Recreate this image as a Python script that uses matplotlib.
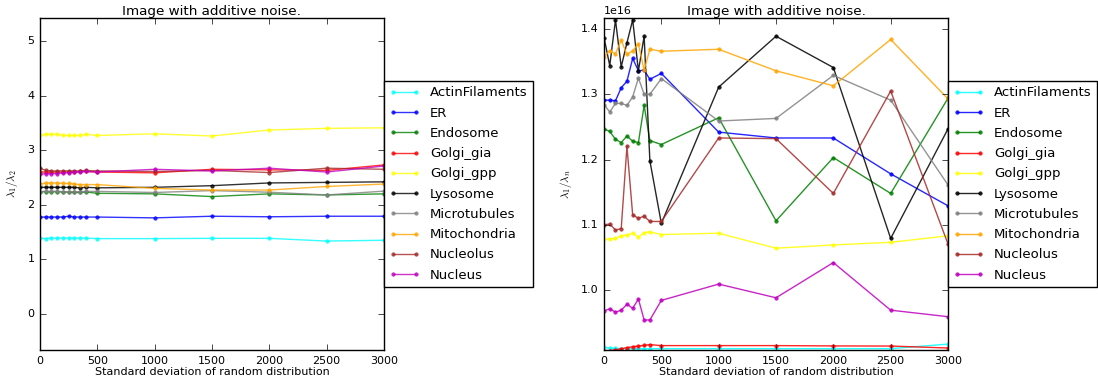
import matplotlib
matplotlib.use("Agg")
import matplotlib.pyplot as plt

plt.style.use("classic")
plt.rcParams["figure.facecolor"] = "white"
plt.rcParams["savefig.facecolor"] = "white"
plt.rcParams["font.size"] = 8

# Standard deviation of the random distribution
sigma = [0, 50, 100, 150, 200, 250, 300, 350, 400, 500, 1000, 1500, 2000, 2500, 3000]

labels = ["ActinFilaments", "ER", "Endosome", "Golgi_gia", "Golgi_gpp",
          "Lysosome", "Microtubules", "Mitochondria", "Nucleolus", "Nucleus"]
colors = ["cyan", "blue", "green", "red", "yellow", "black", "gray", "orange", "brown", "m"]

# lambda_1 / lambda_2
ratio12_actin = [1.39, 1.38, 1.39, 1.39, 1.39, 1.39, 1.39, 1.39, 1.39, 1.38, 1.38, 1.385, 1.385, 1.335, 1.35]
ratio12_er = [1.775, 1.775, 1.775, 1.775, 1.775, 1.79, 1.775, 1.775, 1.775, 1.775, 1.76, 1.79, 1.78, 1.79, 1.79]
ratio12_endosome = [2.24, 2.24, 2.24, 2.24, 2.235, 2.23, 2.225, 2.225, 2.235, 2.21, 2.20, 2.15, 2.20, 2.18, 2.20]
ratio12_golgi_gia = [2.60, 2.60, 2.60, 2.60, 2.60, 2.60, 2.60, 2.61, 2.61, 2.60, 2.585, 2.65, 2.64, 2.63, 2.73]
ratio12_golgi_gpp = [3.27, 3.29, 3.29, 3.29, 3.27, 3.27, 3.27, 3.27, 3.29, 3.27, 3.30, 3.26, 3.37, 3.40, 3.41]
ratio12_lysosome = [2.32, 2.32, 2.32, 2.32, 2.32, 2.32, 2.32, 2.31, 2.32, 2.31, 2.32, 2.35, 2.40, 2.41, 2.42]
ratio12_microtubules = [2.24, 2.245, 2.245, 2.245, 2.24, 2.24, 2.24, 2.24, 2.245, 2.245, 2.225, 2.26, 2.23, 2.18, 2.25]
ratio12_mitochondria = [2.38, 2.40, 2.40, 2.40, 2.39, 2.39, 2.38, 2.37, 2.37, 2.37, 2.30, 2.27, 2.27, 2.335, 2.38]
ratio12_nucleolus = [2.67, 2.63, 2.62, 2.62, 2.62, 2.62, 2.62, 2.62, 2.63, 2.62, 2.61, 2.63, 2.59, 2.67, 2.65]
ratio12_nucleus = [2.555, 2.57, 2.57, 2.57, 2.585, 2.585, 2.60, 2.60, 2.61, 2.60, 2.65, 2.62, 2.67, 2.60, 2.71]

# lambda_1 / lambda_n (scaled by 1e16)
ratio1n_actin = [0.912, 0.9105, 0.9103, 0.9102, 0.9101, 0.9100, 0.9100, 0.9100, 0.9100, 0.9100, 0.9100, 0.9100, 0.9100, 0.9100, 0.917]
ratio1n_er = [1.291, 1.291, 1.290, 1.310, 1.320, 1.355, 1.336, 1.337, 1.323, 1.332, 1.242, 1.233, 1.233, 1.178, 1.129]
ratio1n_endosome = [1.247, 1.243, 1.231, 1.226, 1.236, 1.228, 1.226, 1.283, 1.229, 1.223, 1.264, 1.106, 1.203, 1.148, 1.294]
ratio1n_golgi_gia = [0.907, 0.907, 0.908, 0.910, 0.9115, 0.913, 0.914, 0.915, 0.9162, 0.9147, 0.9147, 0.9147, 0.9142, 0.914, 0.911]
ratio1n_golgi_gpp = [1.078, 1.078, 1.079, 1.083, 1.084, 1.087, 1.081, 1.088, 1.089, 1.085, 1.087, 1.064, 1.069, 1.073, 1.083]
ratio1n_lysosome = [1.387, 1.344, 1.414, 1.342, 1.379, 1.414, 1.336, 1.389, 1.198, 1.102, 1.311, 1.389, 1.341, 1.079, 1.247]
ratio1n_microtubules = [1.284, 1.273, 1.286, 1.286, 1.283, 1.296, 1.325, 1.300, 1.300, 1.324, 1.259, 1.263, 1.329, 1.291, 1.161]
ratio1n_mitochondria = [1.357, 1.367, 1.362, 1.383, 1.361, 1.367, 1.377, 1.337, 1.369, 1.366, 1.369, 1.336, 1.313, 1.384, 1.293]
ratio1n_nucleolus = [1.100, 1.101, 1.092, 1.094, 1.220, 1.115, 1.110, 1.113, 1.105, 1.105, 1.233, 1.232, 1.148, 1.305, 1.0705]
ratio1n_nucleus = [0.968, 0.971, 0.966, 0.969, 0.978, 0.972, 0.986, 0.954, 0.954, 0.984, 1.009, 0.988, 1.042, 0.969, 0.959]

ratio12 = [ratio12_actin, ratio12_er, ratio12_endosome, ratio12_golgi_gia, ratio12_golgi_gpp,
           ratio12_lysosome, ratio12_microtubules, ratio12_mitochondria, ratio12_nucleolus, ratio12_nucleus]
ratio1n = [ratio1n_actin, ratio1n_er, ratio1n_endosome, ratio1n_golgi_gia, ratio1n_golgi_gpp,
           ratio1n_lysosome, ratio1n_microtubules, ratio1n_mitochondria, ratio1n_nucleolus, ratio1n_nucleus]
scale = 1e16

fig = plt.figure(figsize=(10.98, 3.85), dpi=100)
ax1 = fig.add_axes([0.0364, 0.091, 0.3133, 0.862])
ax2 = fig.add_axes([0.5501, 0.091, 0.3133, 0.862])

for vals, lab, col in zip(ratio12, labels, colors):
    ax1.plot(sigma, vals, marker=".", markersize=5, color=col, mec=col, label=lab, alpha=0.8)
for vals, lab, col in zip(ratio1n, labels, colors):
    ax2.plot(sigma, [v * scale for v in vals], marker=".", markersize=5, color=col, mec=col,
             label=lab, alpha=0.85)

ax1.set_xlim(0, 3000)
ax1.set_ylim(-0.66, 5.42)
ax1.set_yticks([0, 1, 2, 3, 4, 5])
ax1.set_ylabel(r"$\lambda_1/\lambda_2$", fontsize=8)
ax2.set_xlim(0, 3000)
ax2.set_ylim(0.908 * scale, 1.4168 * scale)
ax2.set_yticks([1.0e16, 1.1e16, 1.2e16, 1.3e16, 1.4e16])
ax2.set_ylabel(r"$\lambda_1/\lambda_n$", fontsize=8)
ax2.yaxis.get_offset_text().set_fontsize(8)

for ax in (ax1, ax2):
    ax.set_xticks([0, 500, 1000, 1500, 2000, 2500, 3000])
    ax.set_title("Image with additive noise.", fontsize=9.7, pad=2)
    ax.set_xlabel("Standard deviation of random distribution", fontsize=8, labelpad=1)
    ax.tick_params(labelsize=8, pad=4)
    leg = ax.legend(loc="center left", bbox_to_anchor=(1.0, 0.5), numpoints=2,
                    fontsize=9.5, borderaxespad=0, handlelength=2.3,
                    labelspacing=0.55, fancybox=False)
    leg.get_frame().set_linewidth(1.0)

fig.savefig("out.png", dpi=100)
